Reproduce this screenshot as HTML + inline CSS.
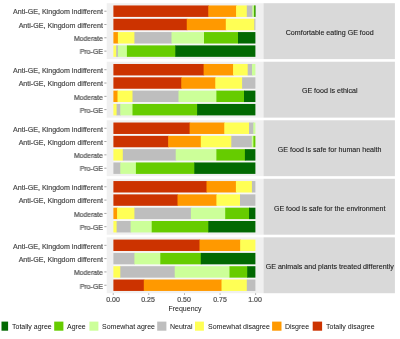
<!DOCTYPE html><html><head><meta charset="utf-8"><style>
html,body{margin:0;padding:0;background:#fff;}
body{width:400px;height:339px;position:relative;overflow:hidden;font-family:"Liberation Sans",sans-serif;}
.a{position:absolute;}
.t{position:absolute;font-size:7.0px;line-height:10px;white-space:nowrap;will-change:transform;}
.yl{-webkit-text-stroke:0.2px currentColor;color:#4D4D4D;text-align:right;width:99.9px;font-size:7.1px;}
.st{-webkit-text-stroke:0.1px currentColor;color:#1A1A1A;text-align:center;font-size:7.1px;}
</style></head><body>
<svg class="a" style="left:0;top:0" width="400" height="339" viewBox="0 0 400 339">
<rect x="106.70" y="3.20" width="156.80" height="55.90" fill="#F0F0F0"/>
<rect x="263.50" y="3.20" width="131.40" height="55.90" fill="#D9D9D9"/>
<rect x="113.40" y="16.51" width="142.00" height="2.66" fill="#F7F7F7"/>
<rect x="113.40" y="29.82" width="142.00" height="2.66" fill="#F7F7F7"/>
<rect x="113.40" y="43.13" width="142.00" height="2.66" fill="#F7F7F7"/>
<rect x="113.40" y="5.46" width="95.50" height="11.45" fill="#CC3300"/>
<rect x="208.30" y="5.46" width="28.40" height="11.45" fill="#FF9900"/>
<rect x="236.10" y="5.46" width="11.30" height="11.45" fill="#FFFF55"/>
<rect x="246.80" y="5.46" width="6.10" height="11.45" fill="#BEBEBE"/>
<rect x="252.30" y="5.46" width="2.20" height="11.45" fill="#CCFF99"/>
<rect x="253.90" y="5.46" width="1.40" height="11.45" fill="#66CC00"/>
<rect x="254.70" y="5.46" width="0.70" height="11.45" fill="#026902"/>
<rect x="104.30" y="10.74" width="2.2" height="0.9" fill="#9a9a9a"/>
<rect x="113.40" y="18.77" width="73.95" height="11.45" fill="#CC3300"/>
<rect x="186.75" y="18.77" width="39.65" height="11.45" fill="#FF9900"/>
<rect x="225.80" y="18.77" width="29.10" height="11.45" fill="#FFFF55"/>
<rect x="254.30" y="18.77" width="1.10" height="11.45" fill="#BEBEBE"/>
<rect x="104.30" y="24.05" width="2.2" height="0.9" fill="#9a9a9a"/>
<rect x="113.40" y="32.08" width="5.10" height="11.45" fill="#FF9900"/>
<rect x="117.90" y="32.08" width="17.10" height="11.45" fill="#FFFF55"/>
<rect x="134.40" y="32.08" width="37.70" height="11.45" fill="#BEBEBE"/>
<rect x="171.50" y="32.08" width="33.10" height="11.45" fill="#CCFF99"/>
<rect x="204.00" y="32.08" width="34.60" height="11.45" fill="#66CC00"/>
<rect x="238.00" y="32.08" width="17.40" height="11.45" fill="#026902"/>
<rect x="104.30" y="37.35" width="2.2" height="0.9" fill="#9a9a9a"/>
<rect x="113.40" y="45.39" width="3.40" height="11.45" fill="#FFFF55"/>
<rect x="116.20" y="45.39" width="2.30" height="11.45" fill="#BEBEBE"/>
<rect x="117.90" y="45.39" width="9.60" height="11.45" fill="#CCFF99"/>
<rect x="126.90" y="45.39" width="49.00" height="11.45" fill="#66CC00"/>
<rect x="175.30" y="45.39" width="80.10" height="11.45" fill="#026902"/>
<rect x="104.30" y="50.66" width="2.2" height="0.9" fill="#9a9a9a"/>
<rect x="106.70" y="61.73" width="156.80" height="55.90" fill="#F0F0F0"/>
<rect x="263.50" y="61.73" width="131.40" height="55.90" fill="#D9D9D9"/>
<rect x="113.40" y="75.04" width="142.00" height="2.66" fill="#F7F7F7"/>
<rect x="113.40" y="88.35" width="142.00" height="2.66" fill="#F7F7F7"/>
<rect x="113.40" y="101.66" width="142.00" height="2.66" fill="#F7F7F7"/>
<rect x="113.40" y="63.99" width="90.80" height="11.45" fill="#CC3300"/>
<rect x="203.60" y="63.99" width="30.10" height="11.45" fill="#FF9900"/>
<rect x="233.10" y="63.99" width="15.20" height="11.45" fill="#FFFF55"/>
<rect x="247.70" y="63.99" width="4.90" height="11.45" fill="#BEBEBE"/>
<rect x="252.00" y="63.99" width="3.40" height="11.45" fill="#CCFF99"/>
<rect x="104.30" y="69.27" width="2.2" height="0.9" fill="#9a9a9a"/>
<rect x="113.40" y="77.30" width="68.50" height="11.45" fill="#CC3300"/>
<rect x="181.30" y="77.30" width="34.60" height="11.45" fill="#FF9900"/>
<rect x="215.30" y="77.30" width="27.40" height="11.45" fill="#FFFF55"/>
<rect x="242.10" y="77.30" width="13.30" height="11.45" fill="#BEBEBE"/>
<rect x="104.30" y="82.58" width="2.2" height="0.9" fill="#9a9a9a"/>
<rect x="113.40" y="90.61" width="4.70" height="11.45" fill="#FF9900"/>
<rect x="117.50" y="90.61" width="15.60" height="11.45" fill="#FFFF55"/>
<rect x="132.50" y="90.61" width="46.60" height="11.45" fill="#BEBEBE"/>
<rect x="178.50" y="90.61" width="38.50" height="11.45" fill="#CCFF99"/>
<rect x="216.40" y="90.61" width="28.20" height="11.45" fill="#66CC00"/>
<rect x="244.00" y="90.61" width="11.40" height="11.45" fill="#026902"/>
<rect x="104.30" y="95.88" width="2.2" height="0.9" fill="#9a9a9a"/>
<rect x="113.40" y="103.92" width="3.80" height="11.45" fill="#FFFF55"/>
<rect x="116.60" y="103.92" width="4.30" height="11.45" fill="#BEBEBE"/>
<rect x="120.30" y="103.92" width="12.80" height="11.45" fill="#CCFF99"/>
<rect x="132.50" y="103.92" width="65.20" height="11.45" fill="#66CC00"/>
<rect x="197.10" y="103.92" width="58.30" height="11.45" fill="#026902"/>
<rect x="104.30" y="109.19" width="2.2" height="0.9" fill="#9a9a9a"/>
<rect x="106.70" y="120.26" width="156.80" height="55.90" fill="#F0F0F0"/>
<rect x="263.50" y="120.26" width="131.40" height="55.90" fill="#D9D9D9"/>
<rect x="113.40" y="133.57" width="142.00" height="2.66" fill="#F7F7F7"/>
<rect x="113.40" y="146.88" width="142.00" height="2.66" fill="#F7F7F7"/>
<rect x="113.40" y="160.19" width="142.00" height="2.66" fill="#F7F7F7"/>
<rect x="113.40" y="122.52" width="76.80" height="11.45" fill="#CC3300"/>
<rect x="189.60" y="122.52" width="35.30" height="11.45" fill="#FF9900"/>
<rect x="224.30" y="122.52" width="25.30" height="11.45" fill="#FFFF55"/>
<rect x="249.00" y="122.52" width="4.90" height="11.45" fill="#BEBEBE"/>
<rect x="253.30" y="122.52" width="2.10" height="11.45" fill="#CCFF99"/>
<rect x="104.30" y="127.80" width="2.2" height="0.9" fill="#9a9a9a"/>
<rect x="113.40" y="135.83" width="55.40" height="11.45" fill="#CC3300"/>
<rect x="168.20" y="135.83" width="33.20" height="11.45" fill="#FF9900"/>
<rect x="200.80" y="135.83" width="31.10" height="11.45" fill="#FFFF55"/>
<rect x="231.30" y="135.83" width="21.10" height="11.45" fill="#BEBEBE"/>
<rect x="251.80" y="135.83" width="2.20" height="11.45" fill="#CCFF99"/>
<rect x="253.40" y="135.83" width="2.00" height="11.45" fill="#66CC00"/>
<rect x="104.30" y="141.11" width="2.2" height="0.9" fill="#9a9a9a"/>
<rect x="113.40" y="149.14" width="10.00" height="11.45" fill="#FFFF55"/>
<rect x="122.80" y="149.14" width="53.50" height="11.45" fill="#BEBEBE"/>
<rect x="175.70" y="149.14" width="41.30" height="11.45" fill="#CCFF99"/>
<rect x="216.40" y="149.14" width="29.10" height="11.45" fill="#66CC00"/>
<rect x="244.90" y="149.14" width="10.50" height="11.45" fill="#026902"/>
<rect x="104.30" y="154.41" width="2.2" height="0.9" fill="#9a9a9a"/>
<rect x="113.40" y="162.45" width="7.50" height="11.45" fill="#BEBEBE"/>
<rect x="120.30" y="162.45" width="16.20" height="11.45" fill="#CCFF99"/>
<rect x="135.90" y="162.45" width="59.00" height="11.45" fill="#66CC00"/>
<rect x="194.30" y="162.45" width="61.10" height="11.45" fill="#026902"/>
<rect x="104.30" y="167.72" width="2.2" height="0.9" fill="#9a9a9a"/>
<rect x="106.70" y="178.79" width="156.80" height="55.90" fill="#F0F0F0"/>
<rect x="263.50" y="178.79" width="131.40" height="55.90" fill="#D9D9D9"/>
<rect x="113.40" y="192.10" width="142.00" height="2.66" fill="#F7F7F7"/>
<rect x="113.40" y="205.41" width="142.00" height="2.66" fill="#F7F7F7"/>
<rect x="113.40" y="218.72" width="142.00" height="2.66" fill="#F7F7F7"/>
<rect x="113.40" y="181.05" width="93.70" height="11.45" fill="#CC3300"/>
<rect x="206.50" y="181.05" width="30.00" height="11.45" fill="#FF9900"/>
<rect x="235.90" y="181.05" width="16.60" height="11.45" fill="#FFFF55"/>
<rect x="251.90" y="181.05" width="3.50" height="11.45" fill="#BEBEBE"/>
<rect x="104.30" y="186.33" width="2.2" height="0.9" fill="#9a9a9a"/>
<rect x="113.40" y="194.36" width="64.70" height="11.45" fill="#CC3300"/>
<rect x="177.50" y="194.36" width="39.50" height="11.45" fill="#FF9900"/>
<rect x="216.40" y="194.36" width="24.20" height="11.45" fill="#FFFF55"/>
<rect x="240.00" y="194.36" width="15.40" height="11.45" fill="#BEBEBE"/>
<rect x="104.30" y="199.64" width="2.2" height="0.9" fill="#9a9a9a"/>
<rect x="113.40" y="207.67" width="4.30" height="11.45" fill="#FF9900"/>
<rect x="117.10" y="207.67" width="17.90" height="11.45" fill="#FFFF55"/>
<rect x="134.40" y="207.67" width="57.10" height="11.45" fill="#BEBEBE"/>
<rect x="190.90" y="207.67" width="34.90" height="11.45" fill="#CCFF99"/>
<rect x="225.20" y="207.67" width="24.40" height="11.45" fill="#66CC00"/>
<rect x="249.00" y="207.67" width="6.40" height="11.45" fill="#026902"/>
<rect x="104.30" y="212.94" width="2.2" height="0.9" fill="#9a9a9a"/>
<rect x="113.40" y="220.98" width="3.80" height="11.45" fill="#FFFF55"/>
<rect x="116.60" y="220.98" width="14.60" height="11.45" fill="#BEBEBE"/>
<rect x="130.60" y="220.98" width="21.70" height="11.45" fill="#CCFF99"/>
<rect x="151.70" y="220.98" width="57.20" height="11.45" fill="#66CC00"/>
<rect x="208.30" y="220.98" width="47.10" height="11.45" fill="#026902"/>
<rect x="104.30" y="226.25" width="2.2" height="0.9" fill="#9a9a9a"/>
<rect x="106.70" y="237.32" width="156.80" height="55.90" fill="#F0F0F0"/>
<rect x="263.50" y="237.32" width="131.40" height="55.90" fill="#D9D9D9"/>
<rect x="113.40" y="250.63" width="142.00" height="2.66" fill="#F7F7F7"/>
<rect x="113.40" y="263.94" width="142.00" height="2.66" fill="#F7F7F7"/>
<rect x="113.40" y="277.25" width="142.00" height="2.66" fill="#F7F7F7"/>
<rect x="113.40" y="239.58" width="86.70" height="11.45" fill="#CC3300"/>
<rect x="199.50" y="239.58" width="41.30" height="11.45" fill="#FF9900"/>
<rect x="240.20" y="239.58" width="15.20" height="11.45" fill="#FFFF55"/>
<rect x="104.30" y="244.86" width="2.2" height="0.9" fill="#9a9a9a"/>
<rect x="113.40" y="252.89" width="21.60" height="11.45" fill="#BEBEBE"/>
<rect x="134.40" y="252.89" width="26.50" height="11.45" fill="#CCFF99"/>
<rect x="160.30" y="252.89" width="41.10" height="11.45" fill="#66CC00"/>
<rect x="200.80" y="252.89" width="54.60" height="11.45" fill="#026902"/>
<rect x="104.30" y="258.17" width="2.2" height="0.9" fill="#9a9a9a"/>
<rect x="113.40" y="266.20" width="7.50" height="11.45" fill="#FFFF55"/>
<rect x="120.30" y="266.20" width="55.00" height="11.45" fill="#BEBEBE"/>
<rect x="174.70" y="266.20" width="55.40" height="11.45" fill="#CCFF99"/>
<rect x="229.50" y="266.20" width="18.30" height="11.45" fill="#66CC00"/>
<rect x="247.20" y="266.20" width="8.20" height="11.45" fill="#026902"/>
<rect x="104.30" y="271.47" width="2.2" height="0.9" fill="#9a9a9a"/>
<rect x="113.40" y="279.51" width="31.00" height="11.45" fill="#CC3300"/>
<rect x="143.80" y="279.51" width="78.30" height="11.45" fill="#FF9900"/>
<rect x="221.50" y="279.51" width="25.90" height="11.45" fill="#FFFF55"/>
<rect x="246.80" y="279.51" width="8.60" height="11.45" fill="#BEBEBE"/>
<rect x="104.30" y="284.78" width="2.2" height="0.9" fill="#9a9a9a"/>
<rect x="112.80" y="293.22" width="0.8" height="1.7" fill="#999"/>
<rect x="148.42" y="293.22" width="0.8" height="1.7" fill="#999"/>
<rect x="184.05" y="293.22" width="0.8" height="1.7" fill="#999"/>
<rect x="219.67" y="293.22" width="0.8" height="1.7" fill="#999"/>
<rect x="255.30" y="293.22" width="0.8" height="1.7" fill="#999"/>
<rect x="1.50" y="321.6" width="6.60" height="9.1" fill="#026902"/>
<rect x="54.20" y="321.6" width="9.20" height="9.1" fill="#66CC00"/>
<rect x="89.40" y="321.6" width="9.00" height="9.1" fill="#CCFF99"/>
<rect x="157.20" y="321.6" width="9.20" height="9.1" fill="#BEBEBE"/>
<rect x="195.00" y="321.6" width="8.90" height="9.1" fill="#FFFF55"/>
<rect x="272.10" y="321.6" width="9.40" height="9.1" fill="#FF9900"/>
<rect x="312.70" y="321.6" width="9.40" height="9.1" fill="#CC3300"/>
</svg>
<div class="t yl" style="left:3px;top:7.49px">Anti-GE, Kingdom indifferent</div>
<div class="t yl" style="left:3px;top:20.80px">Anti-GE, Kingdom different</div>
<div class="t yl" style="left:3px;top:34.10px;transform:scaleX(0.968);transform-origin:100% 50%">Moderate</div>
<div class="t yl" style="left:3px;top:47.41px;transform:scaleX(0.975);transform-origin:100% 50%">Pro-GE</div>
<div class="t st" style="left:263.50px;width:131.40px;top:27.95px">Comfortable eating GE food</div>
<div class="t yl" style="left:3px;top:66.02px">Anti-GE, Kingdom indifferent</div>
<div class="t yl" style="left:3px;top:79.33px">Anti-GE, Kingdom different</div>
<div class="t yl" style="left:3px;top:92.63px;transform:scaleX(0.968);transform-origin:100% 50%">Moderate</div>
<div class="t yl" style="left:3px;top:105.94px;transform:scaleX(0.975);transform-origin:100% 50%">Pro-GE</div>
<div class="t st" style="left:263.50px;width:131.40px;top:86.48px">GE food is ethical</div>
<div class="t yl" style="left:3px;top:124.55px">Anti-GE, Kingdom indifferent</div>
<div class="t yl" style="left:3px;top:137.86px">Anti-GE, Kingdom different</div>
<div class="t yl" style="left:3px;top:151.16px;transform:scaleX(0.968);transform-origin:100% 50%">Moderate</div>
<div class="t yl" style="left:3px;top:164.47px;transform:scaleX(0.975);transform-origin:100% 50%">Pro-GE</div>
<div class="t st" style="left:263.50px;width:131.40px;top:145.01px">GE food is safe for human health</div>
<div class="t yl" style="left:3px;top:183.08px">Anti-GE, Kingdom indifferent</div>
<div class="t yl" style="left:3px;top:196.39px">Anti-GE, Kingdom different</div>
<div class="t yl" style="left:3px;top:209.69px;transform:scaleX(0.968);transform-origin:100% 50%">Moderate</div>
<div class="t yl" style="left:3px;top:223.00px;transform:scaleX(0.975);transform-origin:100% 50%">Pro-GE</div>
<div class="t st" style="left:263.50px;width:131.40px;top:203.54px">GE food is safe for the environment</div>
<div class="t yl" style="left:3px;top:241.61px">Anti-GE, Kingdom indifferent</div>
<div class="t yl" style="left:3px;top:254.92px">Anti-GE, Kingdom different</div>
<div class="t yl" style="left:3px;top:268.22px;transform:scaleX(0.968);transform-origin:100% 50%">Moderate</div>
<div class="t yl" style="left:3px;top:281.53px;transform:scaleX(0.975);transform-origin:100% 50%">Pro-GE</div>
<div class="t st" style="left:263.50px;width:131.40px;top:262.07px">GE animals and plants treated differently</div>
<div class="t" style="-webkit-text-stroke:0.2px currentColor;color:#4D4D4D;left:92.70px;width:40px;text-align:center;top:295.02px">0.00</div>
<div class="t" style="-webkit-text-stroke:0.2px currentColor;color:#4D4D4D;left:128.32px;width:40px;text-align:center;top:295.02px">0.25</div>
<div class="t" style="-webkit-text-stroke:0.2px currentColor;color:#4D4D4D;left:163.95px;width:40px;text-align:center;top:295.02px">0.50</div>
<div class="t" style="-webkit-text-stroke:0.2px currentColor;color:#4D4D4D;left:199.57px;width:40px;text-align:center;top:295.02px">0.75</div>
<div class="t" style="-webkit-text-stroke:0.2px currentColor;color:#4D4D4D;left:235.20px;width:40px;text-align:center;top:295.02px">1.00</div>
<div class="t" style="color:#111;left:155.10px;width:60px;text-align:center;top:303.62px">Frequency</div>
<div class="t" style="color:#111;left:11.70px;top:322.3px">Totally agree</div>
<div class="t" style="color:#111;left:66.80px;top:322.3px">Agree</div>
<div class="t" style="color:#111;left:101.70px;top:322.3px">Somewhat agree</div>
<div class="t" style="color:#111;left:169.70px;top:322.3px">Neutral</div>
<div class="t" style="color:#111;left:207.80px;top:322.3px">Somewhat disagree</div>
<div class="t" style="color:#111;left:285.00px;top:322.3px">Disgree</div>
<div class="t" style="color:#111;left:326.00px;top:322.3px">Totally disagree</div>
</body></html>
